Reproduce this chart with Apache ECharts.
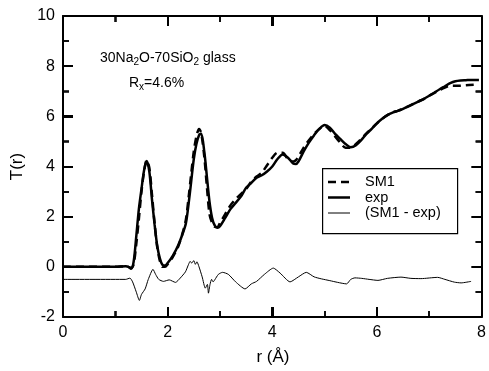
<!DOCTYPE html>
<html>
<head>
<meta charset="utf-8">
<script src="https://cdn.jsdelivr.net/npm/echarts@6/dist/echarts.min.js"></script>
<style>
html,body{margin:0;padding:0;background:#fff;}
#wrap{position:relative;width:489px;height:371px;}
#chart{width:489px;height:371px;}
#ticks{position:absolute;left:0;top:0;pointer-events:none;}
</style>
</head>
<body>
<div id="wrap"><div id="chart"></div><canvas id="ticks" width="489" height="371"></canvas></div>
<script>
// Total correlation function T(r) of 30Na2O-70SiO2 glass: model SM1 vs experiment
const xTicks = [0, 2, 4, 6, 8];
const xMinorTicks = [1, 3, 5, 7];
const yTicks = [-2, 0, 2, 4, 6, 8, 10];
const yMinorTicks = [-1, 1, 3, 5, 7, 9];
const seriesNames = ['SM1', 'exp', '(SM1 - exp)'];

// experiment [r, T(r)]
const expData = [
  [0, 0], [1.0, 0], [1.2, 0.02], [1.25, 0.0], [1.3, -0.08], [1.35, 0.2], [1.4, 1.2],
  [1.45, 2.3], [1.5, 3.1], [1.55, 3.85], [1.6, 4.22], [1.65, 3.8], [1.7, 2.7],
  [1.75, 1.7], [1.8, 0.85], [1.85, 0.35], [1.9, 0.08], [1.95, 0.05], [2.0, 0.15],
  [2.1, 0.45], [2.2, 0.85], [2.3, 1.4], [2.35, 1.75], [2.4, 2.5], [2.45, 3.4],
  [2.5, 4.3], [2.55, 4.9], [2.6, 5.25], [2.64, 5.32], [2.7, 4.6], [2.75, 3.6],
  [2.8, 2.6], [2.85, 1.95], [2.9, 1.65], [2.95, 1.56], [3.0, 1.62], [3.1, 1.95],
  [3.2, 2.3], [3.3, 2.55], [3.4, 2.8], [3.5, 3.15], [3.6, 3.35], [3.7, 3.55],
  [3.8, 3.65], [3.9, 3.8], [4.0, 4.0], [4.1, 4.3], [4.2, 4.48], [4.3, 4.35],
  [4.4, 4.12], [4.45, 4.1], [4.5, 4.2], [4.6, 4.6], [4.7, 4.95], [4.8, 5.25],
  [4.9, 5.5], [5.0, 5.65], [5.1, 5.55], [5.2, 5.3], [5.3, 5.1], [5.4, 4.9],
  [5.5, 4.77], [5.6, 4.85], [5.7, 5.05], [5.8, 5.3], [5.9, 5.5], [6.0, 5.72],
  [6.1, 5.9], [6.2, 6.05], [6.3, 6.15], [6.4, 6.22], [6.5, 6.3], [6.6, 6.4],
  [6.7, 6.5], [6.8, 6.6], [6.9, 6.7], [7.0, 6.82], [7.1, 6.95], [7.2, 7.08],
  [7.3, 7.2], [7.4, 7.32], [7.5, 7.4], [7.6, 7.43], [7.7, 7.44], [7.8, 7.45],
  [7.95, 7.45]
];

// SM1 model [r, T(r)]
const sm1Data = [
  [0, 0], [1.0, 0], [1.2, 0.02], [1.25, 0.0], [1.3, -0.05], [1.35, 0.1], [1.4, 0.9],
  [1.45, 1.9], [1.5, 3.0], [1.55, 3.8], [1.6, 4.25], [1.65, 3.95], [1.7, 2.9],
  [1.75, 1.75], [1.8, 0.8], [1.85, 0.25], [1.9, 0.0], [1.95, 0.0], [2.0, 0.1],
  [2.1, 0.4], [2.2, 0.8], [2.3, 1.45], [2.35, 1.9], [2.4, 2.75], [2.45, 3.7],
  [2.5, 4.6], [2.55, 5.2], [2.6, 5.5], [2.64, 5.35], [2.7, 4.4], [2.75, 3.2],
  [2.8, 2.1], [2.85, 1.75], [2.9, 1.6], [2.95, 1.58], [3.0, 1.75], [3.1, 2.1],
  [3.2, 2.45], [3.3, 2.7], [3.4, 2.9], [3.5, 3.1], [3.6, 3.4], [3.7, 3.6],
  [3.8, 3.75], [3.9, 4.05], [4.0, 4.35], [4.1, 4.55], [4.2, 4.55], [4.3, 4.3],
  [4.4, 4.2], [4.45, 4.25], [4.5, 4.4], [4.6, 4.75], [4.7, 5.05], [4.8, 5.3],
  [4.9, 5.5], [5.0, 5.62], [5.1, 5.45], [5.2, 5.2], [5.3, 4.95], [5.4, 4.75],
  [5.5, 4.75], [5.6, 4.9], [5.7, 5.1], [5.8, 5.32], [5.9, 5.52], [6.0, 5.72],
  [6.1, 5.9], [6.2, 6.05], [6.3, 6.15], [6.4, 6.22], [6.5, 6.3], [6.6, 6.4],
  [6.7, 6.5], [6.8, 6.6], [6.9, 6.7], [7.0, 6.82], [7.1, 6.93], [7.2, 7.05],
  [7.3, 7.15], [7.4, 7.22], [7.5, 7.22], [7.6, 7.22], [7.7, 7.24], [7.85, 7.26]
];

// difference (SM1 - exp), drawn shifted down by 0.5
const diffData = [
  [0, -0.5], [1.2, -0.5], [1.28, -0.45], [1.33, -0.6], [1.4, -1.0], [1.46, -1.34],
  [1.5, -1.1], [1.57, -0.88], [1.63, -0.5], [1.72, -0.1], [1.77, -0.3], [1.83, -0.5],
  [1.92, -0.58], [2.03, -0.52], [2.15, -0.62], [2.24, -0.45], [2.34, -0.2],
  [2.4, 0.1], [2.43, 0.22], [2.46, 0.15], [2.5, 0.25], [2.53, 0.1], [2.56, 0.2],
  [2.6, 0.0], [2.66, -0.4], [2.72, -0.85], [2.76, -0.7], [2.78, -1.05], [2.81, -0.7],
  [2.84, -0.5], [2.87, -0.6], [2.9, -0.52], [2.97, -0.3], [3.05, -0.22], [3.16, -0.3],
  [3.3, -0.6], [3.48, -0.88], [3.6, -0.68], [3.7, -0.58], [3.85, -0.3], [4.02, -0.05],
  [4.15, -0.25], [4.34, -0.6], [4.5, -0.4], [4.65, -0.22], [4.8, -0.4], [4.94, -0.48],
  [5.1, -0.55], [5.25, -0.62], [5.42, -0.68], [5.5, -0.5], [5.58, -0.44], [5.71, -0.46],
  [5.85, -0.5], [6.02, -0.54], [6.2, -0.46], [6.46, -0.41], [6.65, -0.46], [6.84, -0.47],
  [7.16, -0.42], [7.3, -0.5], [7.48, -0.61], [7.61, -0.64], [7.8, -0.58]
];

const FONT = 'Liberation Sans, Arial, sans-serif';
const chart = echarts.init(document.getElementById('chart'));

const lineStyles = [
  {color: '#000', width: 2.5, type: [8, 5]},
  {color: '#000', width: 2.5},
  {color: '#000', width: 1}
];
const MAJOR_LEN = 10, MINOR_LEN = 6;
const GRID = {left: 63, right: 6, top: 16, bottom: 54};
const W = 489, H = 371;

// framed axis: black line, inward major and minor ticks
function axisBase() {
  return {
    type: 'value',
    axisLine: {show: true, onZero: false, lineStyle: {color: '#000', width: 2}},
    axisTick: {show: true, inside: true, length: MAJOR_LEN, lineStyle: {color: '#000', width: 2}},
    minorTick: {show: true, splitNumber: 2, length: MINOR_LEN, lineStyle: {color: '#000', width: 1.5}},
    splitLine: {show: false}
  };
}
const xMin = xTicks[0], xMax = xTicks[xTicks.length - 1];
const yMin = yTicks[0], yMax = yTicks[yTicks.length - 1];
const xRange = {min: xMin, max: xMax, interval: 2};
const yRange = {min: yMin, max: yMax, interval: 2};

// legend box and axis titles drawn with graphic elements
const legendX = 322, legendY = 168, legendW = 135, legendH = 65;
const graphics = [{
  type: 'rect', left: legendX, top: legendY, z: 10,
  shape: {width: legendW, height: legendH},
  style: {fill: '#fff', stroke: '#000', lineWidth: 1.2}
}];
seriesNames.forEach(function (name, i) {
  const y = legendY + 14 + i * 15.5;
  graphics.push({
    type: 'line', z: 11,
    shape: {x1: legendX + 6, y1: y, x2: legendX + 28, y2: y},
    style: {stroke: '#000', lineWidth: lineStyles[i].width, lineDash: lineStyles[i].type || null}
  });
  graphics.push({
    type: 'text', z: 11, x: legendX + 43, y: y,
    style: {text: name, fill: '#000', font: '14.5px ' + FONT, verticalAlign: 'middle'}
  });
});
graphics.push({
  type: 'text', x: (GRID.left + W - GRID.right) / 2, y: 357,
  style: {text: 'r (Å)', fill: '#000', font: '17px ' + FONT, align: 'center', verticalAlign: 'middle'}
});
graphics.push({
  type: 'text', x: 17, y: (GRID.top + H - GRID.bottom) / 2, rotation: Math.PI / 2,
  style: {text: 'T(r)', fill: '#000', font: '17px ' + FONT, align: 'center', verticalAlign: 'middle'}
});

const option = {
  animation: false,
  grid: GRID,
  xAxis: [
    Object.assign(axisBase(), xRange, {position: 'bottom',
      axisLabel: {show: true, color: '#000', fontSize: 16}}),
    Object.assign(axisBase(), xRange, {position: 'top', axisLabel: {show: false}})
  ],
  yAxis: [
    Object.assign(axisBase(), yRange, {position: 'left',
      axisLabel: {show: true, color: '#000', fontSize: 16}}),
    Object.assign(axisBase(), yRange, {position: 'right', axisLabel: {show: false}})
  ],
  title: [
    {
      text: '30Na{s|2}O-70SiO{s|2} glass', left: 95, top: 45,
      textStyle: {color: '#000', fontSize: 14, fontWeight: 'normal', fontFamily: FONT,
        rich: {s: {fontSize: 10, verticalAlign: 'bottom', padding: [7, 0, 0, 0], fontFamily: FONT}}}
    },
    {
      text: 'R{s|x}=4.6%', left: 124, top: 70,
      textStyle: {color: '#000', fontSize: 14, fontWeight: 'normal', fontFamily: FONT,
        rich: {s: {fontSize: 10, verticalAlign: 'bottom', padding: [7, 0, 0, 0], fontFamily: FONT}}}
    }
  ],
  graphic: graphics,
  series: [
    {name: seriesNames[0], type: 'line', data: sm1Data, showSymbol: false,
      smooth: 0.3, lineStyle: lineStyles[0]},
    {name: seriesNames[1], type: 'line', data: expData, showSymbol: false,
      smooth: 0.3, lineStyle: lineStyles[1]},
    {name: seriesNames[2], type: 'line', data: diffData, showSymbol: false,
      smooth: 0.2, lineStyle: lineStyles[2]}
  ]
};

try {
  chart.setOption(option);
} catch (e) {
  console.error(e);
}

// inward tick marks on the four frame sides, at positions from the chart's axis scales
function toPixel(x, y) {
  try {
    const p = chart.convertToPixel({gridIndex: 0}, [x, y]);
    if (p && isFinite(p[0]) && isFinite(p[1])) return p;
  } catch (e) { /* fall through to the grid box */ }
  const w = W - GRID.left - GRID.right, h = H - GRID.top - GRID.bottom;
  return [GRID.left + (x - xMin) / (xMax - xMin) * w, GRID.top + (yMax - y) / (yMax - yMin) * h];
}
function drawTicks() {
  const ctx = document.getElementById('ticks').getContext('2d');
  ctx.clearRect(0, 0, W, H);
  ctx.strokeStyle = '#000';
  const c0 = toPixel(xMin, yMin), c1 = toPixel(xMax, yMax);
  const left = c0[0], bottom = c0[1], right = c1[0], top = c1[1];
  function seg(x1, y1, x2, y2, w) {
    ctx.lineWidth = w;
    ctx.beginPath();
    ctx.moveTo(x1, y1);
    ctx.lineTo(x2, y2);
    ctx.stroke();
  }
  function xMarks(values, len, w) {
    values.forEach(function (v) {
      const px = Math.round(toPixel(v, yMin)[0]);
      seg(px, bottom, px, bottom - len, w);
      seg(px, top, px, top + len, w);
    });
  }
  function yMarks(values, len, w) {
    values.forEach(function (v) {
      const py = Math.round(toPixel(xMin, v)[1]);
      seg(left, py, left + len, py, w);
      seg(right, py, right - len, py, w);
    });
  }
  xMarks(xTicks, MAJOR_LEN, 2);
  xMarks(xMinorTicks, MINOR_LEN, 1.5);
  yMarks(yTicks, MAJOR_LEN, 2);
  yMarks(yMinorTicks, MINOR_LEN, 1.5);
}
drawTicks();
</script>
</body>
</html>
